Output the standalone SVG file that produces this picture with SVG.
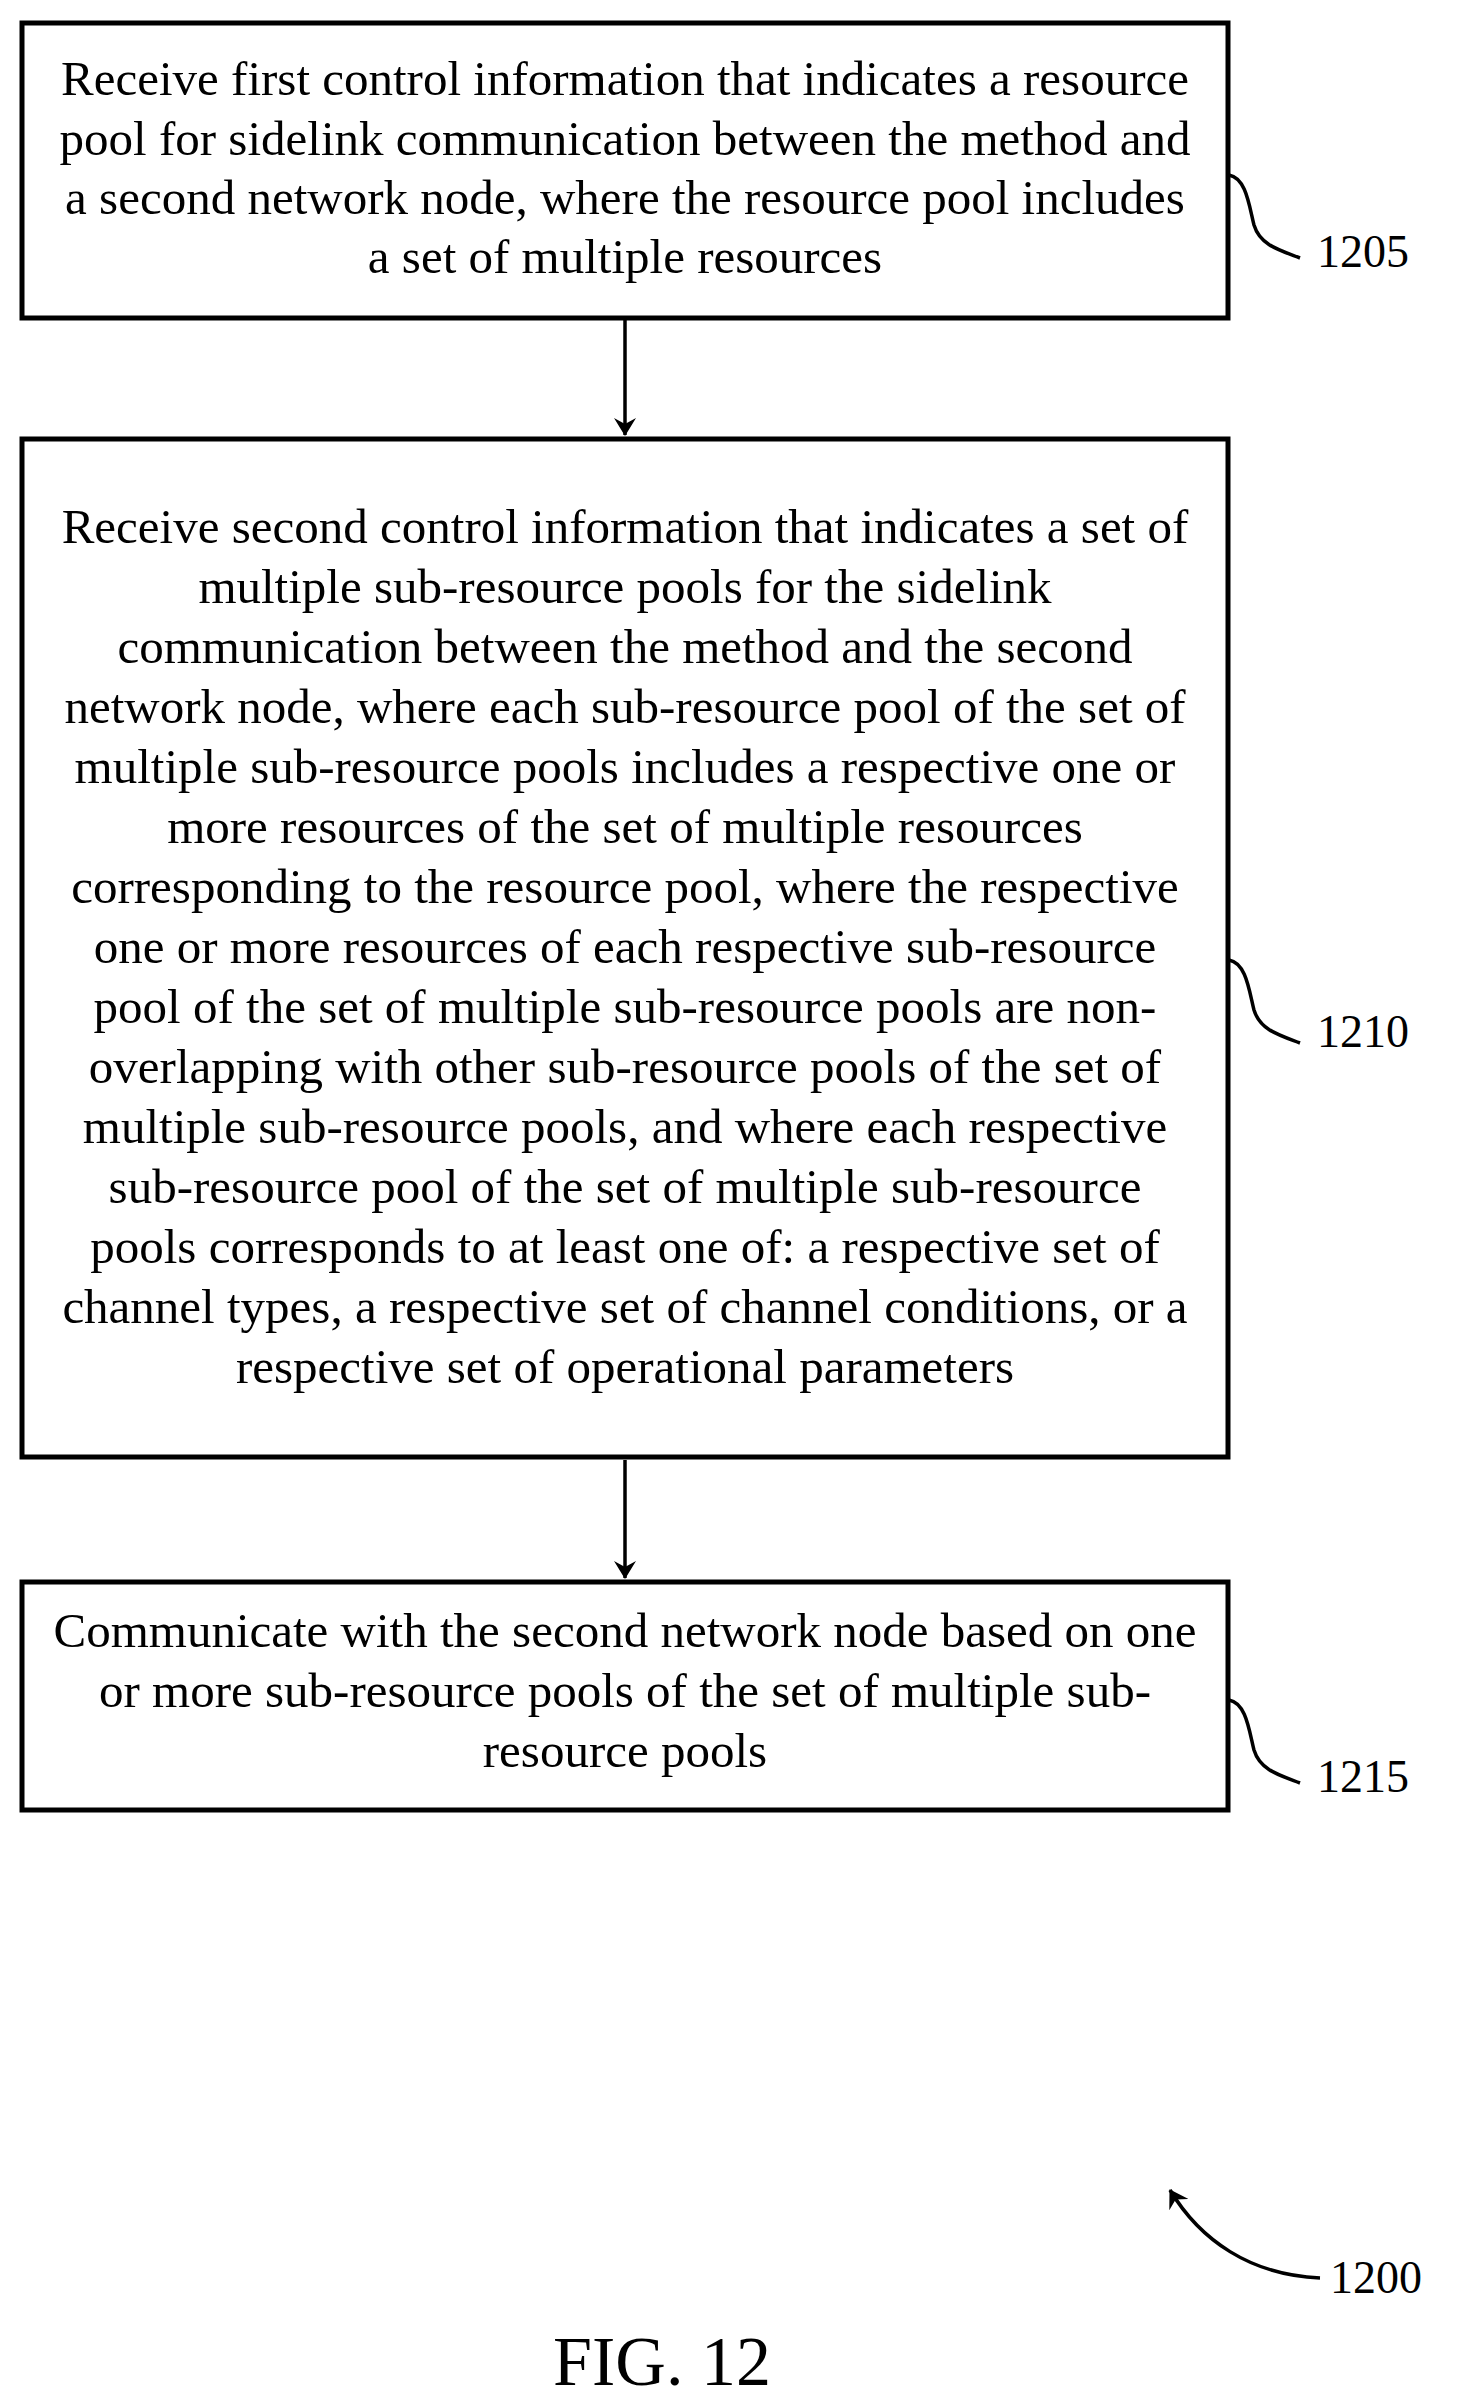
<svg xmlns="http://www.w3.org/2000/svg" width="1459" height="2405" viewBox="0 0 1459 2405">
<defs>
<style>
.box{fill:#fff;stroke:#000;stroke-width:5}
.t{font-family:"Liberation Serif","Times New Roman",serif;font-size:49px;fill:#000;text-anchor:middle}
.lbl{font-family:"Liberation Serif","Times New Roman",serif;font-size:46px;fill:#000}
.c{fill:none;stroke:#000;stroke-width:3.5}
</style>
<marker id="ah" markerWidth="18" markerHeight="22" refX="17" refY="11" orient="auto" markerUnits="userSpaceOnUse"><path d="M0,0 L18,11 L0,22 L6,11 Z" fill="#000"/></marker>
</defs>
<rect width="1459" height="2405" fill="#fff"/>
<g id="connectors">
<line x1="625" y1="320" x2="625" y2="435" class="c" marker-end="url(#ah)"/>
<line x1="625" y1="1460" x2="625" y2="1578" class="c" marker-end="url(#ah)"/>
<path class="c" d="M1229,175 C1246,178 1249,205 1254,225 C1260,245 1279,250 1300,258"/>
<path class="c" d="M1229,960 C1246,963 1249,990 1254,1010 C1260,1030 1279,1035 1300,1043"/>
<path class="c" d="M1229,1700 C1246,1703 1249,1730 1254,1750 C1260,1770 1279,1775 1300,1783"/>
<path class="c" d="M1320,2278 C1250,2275 1200,2240 1170,2190" marker-end="url(#ah)"/>
</g>
<g id="n1205">
<rect class="box" x="22" y="23" width="1206" height="295"/>
<text class="t" x="625" y="95">Receive first control information that indicates a resource</text>
<text class="t" x="625" y="155">pool for sidelink communication between the method and</text>
<text class="t" x="625" y="214">a second network node, where the resource pool includes</text>
<text class="t" x="625" y="273">a set of multiple resources</text>
<text class="lbl" x="1317" y="267">1205</text>
</g>
<g id="n1210">
<rect class="box" x="22" y="439" width="1206" height="1018"/>
<text class="t" x="625" y="543">Receive second control information that indicates a set of</text>
<text class="t" x="625" y="603">multiple sub-resource pools for the sidelink</text>
<text class="t" x="625" y="663">communication between the method and the second</text>
<text class="t" x="625" y="723">network node, where each sub-resource pool of the set of</text>
<text class="t" x="625" y="783">multiple sub-resource pools includes a respective one or</text>
<text class="t" x="625" y="843">more resources of the set of multiple resources</text>
<text class="t" x="625" y="903">corresponding to the resource pool, where the respective</text>
<text class="t" x="625" y="963">one or more resources of each respective sub-resource</text>
<text class="t" x="625" y="1023">pool of the set of multiple sub-resource pools are non-</text>
<text class="t" x="625" y="1083">overlapping with other sub-resource pools of the set of</text>
<text class="t" x="625" y="1143">multiple sub-resource pools, and where each respective</text>
<text class="t" x="625" y="1203">sub-resource pool of the set of multiple sub-resource</text>
<text class="t" x="625" y="1263">pools corresponds to at least one of: a respective set of</text>
<text class="t" x="625" y="1323">channel types, a respective set of channel conditions, or a</text>
<text class="t" x="625" y="1383">respective set of operational parameters</text>
<text class="lbl" x="1317" y="1047">1210</text>
</g>
<g id="n1215">
<rect class="box" x="22" y="1582" width="1206" height="228"/>
<text class="t" x="625" y="1647">Communicate with the second network node based on one</text>
<text class="t" x="625" y="1707">or more sub-resource pools of the set of multiple sub-</text>
<text class="t" x="625" y="1767">resource pools</text>
<text class="lbl" x="1317" y="1792">1215</text>
</g>
<g id="fig">
<text class="lbl" x="1330" y="2293">1200</text>
<text class="t" x="662" y="2385" style="font-size:70px">FIG. 12</text>
</g>
</svg>
